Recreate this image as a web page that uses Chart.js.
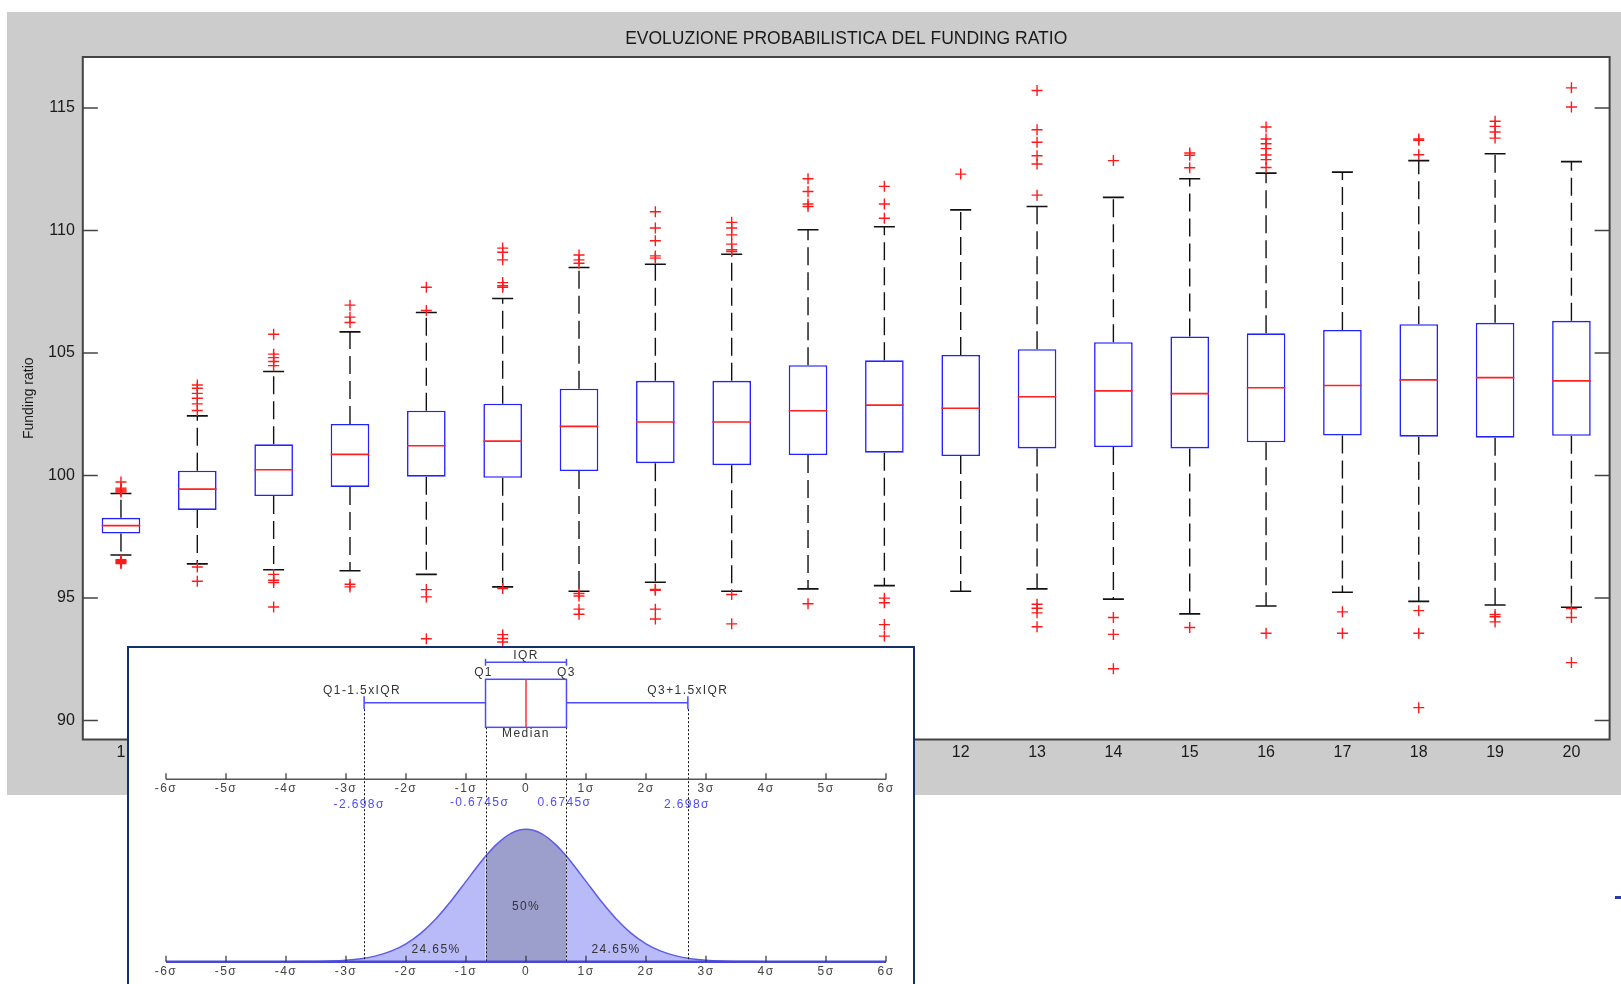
<!DOCTYPE html>
<html>
<head>
<meta charset="utf-8">
<script src="https://cdn.jsdelivr.net/npm/chart.js@4.4.0/dist/chart.umd.min.js"></script>
<style>
  html, body { margin:0; padding:0; background:#fff; width:1621px; height:984px; overflow:hidden; position:relative; }
  #frame { position:absolute; left:7px; top:12px; width:1614px; height:783px; background:#cccccc; }
  #inset { position:absolute; left:127px; top:646px; width:784px; height:350px; border:2px solid #14306c; background:#fff; overflow:hidden; }
  #blip { position:absolute; left:1615px; top:896px; width:6px; height:3px; background:#2b3ba3; }
</style>
</head>
<body>
<div id="frame"><canvas id="main" width="1614" height="783"></canvas></div>
<div id="inset"><canvas id="sigma" width="784" height="350"></canvas></div>
<div id="blip"></div>
<script>
Chart.defaults.font.family = '"Liberation Sans", Arial, sans-serif'

// ---- main boxplot data ----
const years = ['1','2','3','4','5','6','7','8','9','10','11','12','13','14','15','16','17','18','19','20']
const q1 = [97.63, 98.59, 99.16, 99.53, 99.95, 99.90, 100.18, 100.50, 100.42, 100.83, 100.93, 100.79, 101.10, 101.16, 101.10, 101.35, 101.63, 101.58, 101.54, 101.62]
const median = [97.95, 99.44, 100.23, 100.86, 101.21, 101.40, 102.00, 102.18, 102.18, 102.64, 102.87, 102.74, 103.21, 103.45, 103.34, 103.58, 103.67, 103.90, 103.99, 103.86]
const q3 = [98.27, 100.19, 101.27, 102.10, 102.64, 102.93, 103.54, 103.86, 103.86, 104.50, 104.70, 104.92, 105.15, 105.44, 105.67, 105.80, 105.94, 106.17, 106.23, 106.31]
const whiskerLow = [96.75, 96.39, 96.15, 96.11, 95.96, 95.45, 95.27, 95.64, 95.27, 95.37, 95.50, 95.27, 95.37, 94.95, 94.35, 94.67, 95.23, 94.86, 94.71, 94.62]
const whiskerHigh = [99.26, 102.43, 104.24, 105.86, 106.65, 107.22, 108.49, 108.62, 109.03, 110.03, 110.15, 110.84, 110.98, 111.35, 112.11, 112.34, 112.38, 112.85, 113.13, 112.81]
const outliers = [
  [99.73, 99.48, 99.44, 99.40, 99.36, 99.32, 96.56, 96.52, 96.48, 96.44, 96.40],
  [103.69, 103.56, 103.35, 103.15, 102.92, 102.65, 96.26, 95.68],
  [105.76, 104.95, 104.81, 104.65, 104.48, 95.96, 95.72, 95.63, 94.63],
  [106.95, 106.46, 106.24, 95.56, 95.45],
  [107.68, 106.73, 95.34, 95.04, 93.33],
  [109.28, 109.11, 108.80, 107.87, 107.74, 107.68, 95.38, 93.50, 93.34, 93.20],
  [109.00, 108.80, 108.66, 95.18, 95.08, 94.54, 94.33],
  [110.76, 110.10, 109.58, 108.96, 108.87, 95.35, 95.31, 94.54, 94.14],
  [110.33, 110.10, 109.82, 109.44, 109.21, 109.14, 95.14, 93.94],
  [112.11, 111.59, 111.08, 110.98, 94.76],
  [111.80, 111.08, 110.50, 94.99, 94.80, 93.91, 93.44],
  [112.30],
  [115.71, 114.11, 113.60, 113.05, 112.71, 111.44, 94.74, 94.58, 94.39, 93.82],
  [112.85, 94.20, 93.51, 92.11],
  [113.16, 113.07, 112.56, 93.79],
  [114.22, 113.73, 113.54, 113.34, 113.08, 112.89, 112.57, 93.56],
  [94.43, 93.56],
  [113.73, 113.68, 113.09, 94.48, 93.56, 90.52],
  [114.46, 114.25, 114.02, 113.77, 94.32, 94.23, 94.02],
  [115.82, 115.04, 94.57, 94.20, 92.36]
]
const yTicks = [90, 95, 100, 105, 110, 115]

// ---- inset (box plot vs normal distribution) ----
const sigmaTicks = [-6,-5,-4,-3,-2,-1,0,1,2,3,4,5,6]
const sigmaLabels = ['-6σ','-5σ','-4σ','-3σ','-2σ','-1σ','0','1σ','2σ','3σ','4σ','5σ','6σ']
const boxQ1 = -0.6745, boxQ3 = 0.6745, boxMedian = 0, fenceLow = -2.698, fenceHigh = 2.698
const fenceLabels = ['-2.698σ', '-0.6745σ', '0.6745σ', '2.698σ']
const curveX = [-6, -5, -4, -3.75, -3.5, -3.25, -3, -2.75, -2.5, -2.25, -2, -1.75, -1.5, -1.25, -1, -0.75, -0.6745, -0.5, -0.25, 0, 0.25, 0.5, 0.6745, 0.75, 1, 1.25, 1.5, 1.75, 2, 2.25, 2.5, 2.75, 3, 3.25, 3.5, 3.75, 4, 5, 6]
const curveY = [0, 0, 0.0001, 0.0004, 0.0009, 0.002, 0.0044, 0.0091, 0.0175, 0.0317, 0.054, 0.0863, 0.1295, 0.1826, 0.242, 0.3011, 0.3178, 0.3521, 0.3867, 0.3989, 0.3867, 0.3521, 0.3178, 0.3011, 0.242, 0.1826, 0.1295, 0.0863, 0.054, 0.0317, 0.0175, 0.0091, 0.0044, 0.002, 0.0009, 0.0004, 0.0001, 0, 0]
const shareLabels = ['24.65%', '50%', '24.65%']

// build the datasets
let whiskerPts = []
let capPts = []
let outlierPts = []
years.forEach((yr, i) => {
  whiskerPts.push({x:yr, y:q3[i]}, {x:yr, y:whiskerHigh[i]}, {x:yr, y:null},
                  {x:yr, y:q1[i]}, {x:yr, y:whiskerLow[i]}, {x:yr, y:null})
  capPts.push({x:yr, y:whiskerLow[i]}, {x:yr, y:whiskerHigh[i]})
  outliers[i].forEach(v => outlierPts.push({x:yr, y:v}))
})
const medianPts = years.map((yr, i) => ({x:yr, y:median[i]}))
const boxes = years.map((yr, i) => [q1[i], q3[i]])

const txt = '#1a1a1a'

const framePlugin = {//white plot area, box round it + inner ticks like matlab
  id: 'frame',
  beforeDraw(chart) {
    const {ctx, chartArea:a} = chart
    ctx.save()
    ctx.fillStyle = '#fff'
    ctx.fillRect(a.left, a.top, a.right - a.left, a.bottom - a.top)
    ctx.restore()
  },
  afterDraw(chart) {
    const {ctx, chartArea:a, scales:{y}} = chart
    ctx.save()
    ctx.strokeStyle = '#444'
    ctx.lineWidth = 2
    ctx.strokeRect(a.left, a.top, a.right - a.left, a.bottom - a.top)
    ctx.lineWidth = 1.5
    ctx.beginPath()
    yTicks.forEach(v => {
      const py = y.getPixelForValue(v)
      ctx.moveTo(a.left, py); ctx.lineTo(a.left + 15, py)
      ctx.moveTo(a.right - 15, py); ctx.lineTo(a.right, py)
    })
    ctx.stroke()
    ctx.restore()
  }
}

const main = new Chart(document.getElementById('main'), {
  type: 'bar',
  data: {
    labels: years,
    datasets: [
      {type:'line', data: outlierPts, showLine:false, pointStyle:'cross', pointRadius:5.5, borderColor:'#ff1a1a', borderWidth:1.4, order:1},
      {type:'line', data: capPts, showLine:false, pointStyle:'line', pointRadius:10.5, borderColor:'#111', borderWidth:1.6, order:2},
      {type:'line', data: medianPts, showLine:false, pointStyle:'line', pointRadius:19.3, borderColor:'#ff2020', borderWidth:1.6, order:3},
      {type:'bar', data: boxes, backgroundColor:'#fff', borderColor:'#2222ff', borderWidth:1.6, borderSkipped:false, categoryPercentage:0.506, barPercentage:1, order:4},
      {type:'line', data: whiskerPts, borderColor:'#111', borderWidth:1.4, borderDash:[18,7], pointRadius:0, spanGaps:false, order:5}
    ]
  },
  options: {
    responsive:false, animation:false, events:[],
    layout: {autoPadding:false, padding:{left:10, right:11.4, top:0, bottom:0}},
    plugins: {
      legend:{display:false}, tooltip:{enabled:false},
      title:{display:true, text:'EVOLUZIONE PROBABILISTICA DEL FUNDING RATIO', fullSize:false, color:txt,
        font:{size:17.5, weight:'normal'}, padding:{top:16.5, bottom:7.5}}
    },
    scales: {
      x: {
        offset:true,
        grid:{display:false, drawTicks:false}, border:{display:false},
        ticks:{color:txt, font:{size:16}, padding:3},
        afterFit(s) { s.height = 55.5 }
      },
      y: {
        min:89.22, max:117.08,
        grid:{display:false, drawTicks:false}, border:{display:false},
        ticks:{stepSize:5, includeBounds:false, color:txt, font:{size:16}, padding:8},
        title:{display:true, text:'Funding ratio', color:txt, font:{size:14}},
        afterFit(s) { s.width = 65.8 }
      }
    }
  },
  plugins: [framePlugin]
})

// inset datasets, split where the shading changes
const pts = curveX.map((v, i) => ({x:v, y:curveY[i]}))
const leftTail = pts.filter(p => p.x <= boxQ1)
const middle = pts.filter(p => p.x >= boxQ1 && p.x <= boxQ3)
const rightTail = pts.filter(p => p.x >= boxQ3)

const sigmaPlugin = {
  id: 'sigmaDiagram',
  afterDatasetsDraw(chart) {
    const {ctx, scales:{x, y}} = chart
    const X = v => x.getPixelForValue(v)
    const baseY = y.getPixelForValue(0)
    const midY = y.getPixelForValue(0.5496)
    const boxTop = y.getPixelForValue(0.8509)
    const boxBot = y.getPixelForValue(0.7062)
    const whY = y.getPixelForValue(0.7804)
    const iqrY = y.getPixelForValue(0.9021)
    ctx.save()

    // dotted guides
    ctx.strokeStyle = '#111'; ctx.lineWidth = 1; ctx.setLineDash([2, 2])
    ctx.beginPath()
    ;[[boxQ1, boxBot], [boxQ3, boxBot], [fenceLow, whY + 6.5], [fenceHigh, whY + 6.5]].forEach(([v, top]) => {
      ctx.moveTo(Math.round(X(v)) + 0.5, top); ctx.lineTo(Math.round(X(v)) + 0.5, baseY)
    })
    ctx.stroke()
    ctx.setLineDash([])

    ctx.font = '12px "Liberation Sans", Arial, sans-serif'
    ctx.letterSpacing = '1.4px'
    ctx.textAlign = 'center'; ctx.textBaseline = 'middle'

    // sigma axes
    const axis = (py, col, w) => {
      ctx.strokeStyle = col; ctx.lineWidth = w
      ctx.beginPath(); ctx.moveTo(X(-6), py); ctx.lineTo(X(6), py); ctx.stroke()
      ctx.strokeStyle = '#333'; ctx.lineWidth = 1.2
      ctx.beginPath()
      sigmaTicks.forEach(t => { ctx.moveTo(X(t), py); ctx.lineTo(X(t), py - 6) })
      ctx.stroke()
      ctx.fillStyle = '#444'
      sigmaTicks.forEach((t, i) => ctx.fillText(sigmaLabels[i], X(t), py + 9.5))
    }
    axis(midY, '#555', 1.4)
    axis(baseY, '#4848d8', 2.4)

    // fence / quartile values in blue
    ctx.fillStyle = '#4c4cff'
    ctx.fillText(fenceLabels[0], X(fenceLow) - 5, midY + 25)
    ctx.fillText(fenceLabels[1], X(boxQ1) - 6, midY + 23)
    ctx.fillText(fenceLabels[2], X(boxQ3) - 2, midY + 23)
    ctx.fillText(fenceLabels[3], X(fenceHigh) - 1, midY + 25)

    // box plot sketch
    ctx.strokeStyle = '#4b4bff'; ctx.lineWidth = 1.5
    ctx.strokeRect(X(boxQ1), boxTop, X(boxQ3) - X(boxQ1), boxBot - boxTop)
    ctx.beginPath()
    ctx.moveTo(X(fenceLow), whY); ctx.lineTo(X(boxQ1), whY)
    ctx.moveTo(X(boxQ3), whY); ctx.lineTo(X(fenceHigh), whY)
    ctx.moveTo(X(fenceLow), whY - 6.5); ctx.lineTo(X(fenceLow), whY + 6.5)
    ctx.moveTo(X(fenceHigh), whY - 6.5); ctx.lineTo(X(fenceHigh), whY + 6.5)
    ctx.moveTo(X(boxQ1), iqrY); ctx.lineTo(X(boxQ3), iqrY)
    ctx.moveTo(X(boxQ1), iqrY - 3.5); ctx.lineTo(X(boxQ1), iqrY + 3.5)
    ctx.moveTo(X(boxQ3), iqrY - 3.5); ctx.lineTo(X(boxQ3), iqrY + 3.5)
    ctx.stroke()
    ctx.strokeStyle = '#ff3030'
    ctx.beginPath(); ctx.moveTo(X(boxMedian), boxTop); ctx.lineTo(X(boxMedian), boxBot); ctx.stroke()

    ctx.fillStyle = '#333'
    ctx.fillText('IQR', X(boxMedian), iqrY - 7)
    ctx.fillText('Q1', X(boxQ1) - 2, boxTop - 7)
    ctx.fillText('Q3', X(boxQ3), boxTop - 7)
    ctx.fillText('Q1-1.5xIQR', X(fenceLow) - 2, whY - 12)
    ctx.fillText('Q3+1.5xIQR', X(fenceHigh), whY - 12)
    ctx.fillText('Median', X(boxMedian), boxBot + 6)

    // shares under the curve
    ctx.fillText(shareLabels[0], X(-1.5), y.getPixelForValue(0.035))
    ctx.fillText(shareLabels[1], X(0), y.getPixelForValue(0.166))
    ctx.fillText(shareLabels[2], X(1.5), y.getPixelForValue(0.035))
    ctx.restore()
  }
}

const curveStyle = {borderColor:'#5c5ce8', borderWidth:1.5, pointRadius:0, fill:'origin', cubicInterpolationMode:'monotone'}
const sigma = new Chart(document.getElementById('sigma'), {
  type: 'line',
  data: {
    datasets: [
      Object.assign({data:leftTail, backgroundColor:'#b8bbf7'}, curveStyle),
      Object.assign({data:middle, backgroundColor:'#9c9fcb'}, curveStyle),
      Object.assign({data:rightTail, backgroundColor:'#b8bbf7'}, curveStyle)
    ]
  },
  options: {
    responsive:false, animation:false, events:[],
    layout: {padding:{left:37, right:27, top:0, bottom:0}},
    plugins: {legend:{display:false}, tooltip:{enabled:false}},
    scales: {
      x: {type:'linear', min:-6, max:6, display:false},
      y: {min:-0.1094, max:0.9452, display:false}
    }
  },
  plugins: [sigmaPlugin]
})
</script>
</body>
</html>
